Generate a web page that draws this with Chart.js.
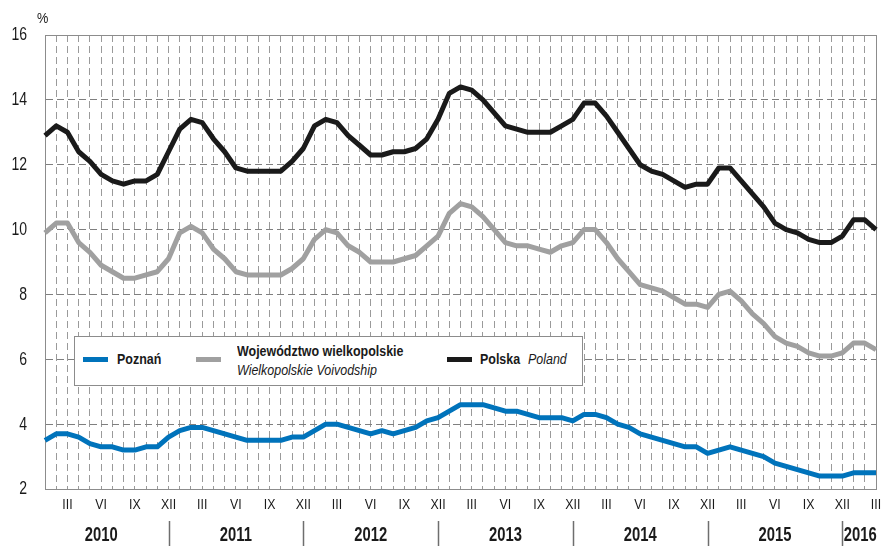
<!DOCTYPE html>
<html>
<head>
<meta charset="utf-8">
<script src="https://cdn.jsdelivr.net/npm/chart.js@4.4.1/dist/chart.umd.min.js"></script>
<style>
  html, body { margin: 0; padding: 0; background: #ffffff; }
  #wrap { position: relative; width: 883px; height: 546px; overflow: hidden; }
  #c { position: absolute; left: 0; top: 0; }
  .nf { font-family: 'Liberation Sans', Arial, sans-serif; color: #1a1a1a; }
  #legend { position: absolute; left: 74px; top: 336px; width: 507px; height: 48px; border: 1px solid #8c8c8c; background: #ffffff; }
  .swatch { position: absolute; width: 25px; height: 5px; }
  .t { position: absolute; height: 20px; line-height: 20px; font-size: 15px; white-space: nowrap;
       transform: scaleX(0.83); transform-origin: left center; }
  .b { font-weight: bold; }
  .i { font-style: italic; }
  #pct { position: absolute; left: 37px; top: 9px; font-size: 15px; transform: scaleX(0.85); transform-origin: left center; }
</style>
</head>
<body>
<div id="wrap">
  <canvas id="c" width="883" height="546"></canvas>
  <div id="pct" class="nf">%</div>
  <div id="legend"></div>
  <div class="swatch" style="left:83px;top:357px;background:#0073bb;"></div>
  <div class="t nf b" style="left:117px;top:349px;">Poznań</div>
  <div class="swatch" style="left:196px;top:357px;background:#a0a0a0;"></div>
  <div class="t nf b" style="left:237px;top:341px;">Województwo wielkopolskie</div>
  <div class="t nf i" style="left:237px;top:360px;">Wielkopolskie Voivodship</div>
  <div class="swatch" style="left:447px;top:357px;background:#1a1a1a;"></div>
  <div class="t nf b" style="left:480px;top:349px;">Polska</div>
  <div class="t nf i" style="left:528px;top:349px;">Poland</div>
</div>
<script>
// ---- data ----
const years = ['2010', '2011', '2012', '2013', '2014', '2015', '2016'];
const monthNames = ['I', 'II', 'III', 'IV', 'V', 'VI', 'VII', 'VIII', 'IX', 'X', 'XI', 'XII'];
const shownMonths = ['III', 'VI', 'IX', 'XII'];
const yTicks = [2, 4, 6, 8, 10, 12, 14, 16];

const poznan = [
  3.5, 3.7, 3.7, 3.6, 3.4, 3.3, 3.3, 3.2, 3.2, 3.3, 3.3, 3.6,
  3.8, 3.9, 3.9, 3.8, 3.7, 3.6, 3.5, 3.5, 3.5, 3.5, 3.6, 3.6,
  3.8, 4.0, 4.0, 3.9, 3.8, 3.7, 3.8, 3.7, 3.8, 3.9, 4.1, 4.2,
  4.4, 4.6, 4.6, 4.6, 4.5, 4.4, 4.4, 4.3, 4.2, 4.2, 4.2, 4.1,
  4.3, 4.3, 4.2, 4.0, 3.9, 3.7, 3.6, 3.5, 3.4, 3.3, 3.3, 3.1,
  3.2, 3.3, 3.2, 3.1, 3.0, 2.8, 2.7, 2.6, 2.5, 2.4, 2.4, 2.4,
  2.5, 2.5, 2.5
];
const wielkopolskie = [
  9.9, 10.2, 10.2, 9.6, 9.3, 8.9, 8.7, 8.5, 8.5, 8.6, 8.7, 9.1,
  9.9, 10.1, 9.9, 9.4, 9.1, 8.7, 8.6, 8.6, 8.6, 8.6, 8.8, 9.1,
  9.7, 10.0, 9.9, 9.5, 9.3, 9.0, 9.0, 9.0, 9.1, 9.2, 9.5, 9.8,
  10.5, 10.8, 10.7, 10.4, 10.0, 9.6, 9.5, 9.5, 9.4, 9.3, 9.5, 9.6,
  10.0, 10.0, 9.6, 9.1, 8.7, 8.3, 8.2, 8.1, 7.9, 7.7, 7.7, 7.6,
  8.0, 8.1, 7.8, 7.4, 7.1, 6.7, 6.5, 6.4, 6.2, 6.1, 6.1, 6.2,
  6.5, 6.5, 6.3
];
const polska = [
  12.9, 13.2, 13.0, 12.4, 12.1, 11.7, 11.5, 11.4, 11.5, 11.5, 11.7, 12.4,
  13.1, 13.4, 13.3, 12.8, 12.4, 11.9, 11.8, 11.8, 11.8, 11.8, 12.1, 12.5,
  13.2, 13.4, 13.3, 12.9, 12.6, 12.3, 12.3, 12.4, 12.4, 12.5, 12.8, 13.4,
  14.2, 14.4, 14.3, 14.0, 13.6, 13.2, 13.1, 13.0, 13.0, 13.0, 13.2, 13.4,
  13.9, 13.9, 13.5, 13.0, 12.5, 12.0, 11.8, 11.7, 11.5, 11.3, 11.4, 11.4,
  11.9, 11.9, 11.5, 11.1, 10.7, 10.2, 10.0, 9.9, 9.7, 9.6, 9.6, 9.8,
  10.3, 10.3, 10.0
];

// month labels built from the lists above
const monthLabels = [];
const fullLabels = [];
for (let i = 0; i < polska.length; i++) {
  monthLabels.push(monthNames[i % 12]);
  fullLabels.push(monthNames[i % 12] + ' ' + years[Math.floor(i / 12)]);
}

const FONT = "'Liberation Sans', Arial, sans-serif";

function narrowText(ctx, text, x, y, sx) {
  ctx.save();
  ctx.translate(x, y);
  ctx.scale(sx, 1);
  ctx.fillText(text, 0, 0);
  ctx.restore();
}

const framePlugin = {
  id: 'frame',
  beforeDatasetsDraw(chart) {
    const { ctx, chartArea: a } = chart;
    ctx.save();
    ctx.strokeStyle = '#8c8c8c';
    ctx.lineWidth = 1;
    ctx.beginPath();
    ctx.moveTo(Math.round(a.left) + 0.5, Math.round(a.top) + 0.5);
    ctx.lineTo(Math.round(a.right) + 0.5, Math.round(a.top) + 0.5);
    ctx.lineTo(Math.round(a.right) + 0.5, Math.round(a.bottom) + 0.5);
    ctx.stroke();
    ctx.restore();
  }
};

const labelPlugin = {
  id: 'labels',
  afterDraw(chart) {
    const { ctx } = chart;
    const xs = chart.scales.x;
    const ys = chart.scales.y;
    const n = polska.length;
    ctx.save();
    ctx.fillStyle = '#1a1a1a';

    // y tick labels
    ctx.font = '18px ' + FONT;
    ctx.textAlign = 'right';
    ctx.textBaseline = 'middle';
    yTicks.forEach(v => narrowText(ctx, String(v), 27, ys.getPixelForValue(v) + 0.5, 0.78));

    // month labels (roman numerals)
    ctx.font = '14px ' + FONT;
    ctx.textAlign = 'center';
    monthLabels.forEach((m, i) => {
      if (shownMonths.includes(m)) narrowText(ctx, m, xs.getPixelForValue(i), 505, 0.88);
    });

    // year labels and separators
    ctx.strokeStyle = '#6e6e6e';
    ctx.lineWidth = 1.5;
    ctx.font = 'bold 20px ' + FONT;
    years.forEach((y, k) => {
      const startIdx = 12 * k - 1;
      const endIdx = Math.min(12 * k + 11, n - 1);
      const x0 = xs.getPixelForValue(startIdx);
      const x1 = xs.getPixelForValue(endIdx);
      if (12 * k + 11 < n - 1) {
        const sx = Math.round(x1) + 0.5;
        ctx.beginPath();
        ctx.moveTo(sx, 521);
        ctx.lineTo(sx, 546);
        ctx.stroke();
      }
      narrowText(ctx, y, (x0 + x1) / 2 + (k === years.length - 1 ? 1 : 0), 535, 0.74);
    });
    ctx.restore();
  }
};

new Chart(document.getElementById('c'), {
  type: 'line',
  data: {
    labels: fullLabels,
    datasets: [
      { label: 'Polska Poland', data: polska, borderColor: '#1a1a1a' },
      { label: 'Województwo wielkopolskie Wielkopolskie Voivodship', data: wielkopolskie, borderColor: '#a0a0a0' },
      { label: 'Poznań', data: poznan, borderColor: '#0073bb' }
    ].map(d => Object.assign(d, {
      borderWidth: 5,
      pointRadius: 0,
      tension: 0,
      fill: false,
      borderJoinStyle: 'round',
      borderCapStyle: 'butt'
    }))
  },
  options: {
    responsive: false,
    animation: false,
    devicePixelRatio: 1,
    layout: { padding: { top: 35, right: 7, left: 0, bottom: 0 } },
    plugins: { legend: { display: false }, tooltip: { enabled: false } },
    scales: {
      x: {
        type: 'category',
        offset: false,
        grid: { display: true, color: '#9a9a9a', lineWidth: 1, drawTicks: false },
        border: { display: true, color: '#8c8c8c', width: 1, dash: [7, 4] },
        ticks: { display: false, autoSkip: false, maxRotation: 0, minRotation: 0 },
        afterFit: s => { s.height = 57; }
      },
      y: {
        min: 2, max: 16,
        afterBuildTicks: s => { s.ticks = yTicks.map(v => ({ value: v })); },
        grid: { color: '#7f7f7f', lineWidth: 1, drawTicks: false },
        border: { display: true, color: '#8c8c8c', width: 1, dash: [7, 4] },
        ticks: { display: false },
        afterFit: s => { s.width = 45; }
      }
    }
  },
  plugins: [framePlugin, labelPlugin]
});
</script>
</body>
</html>
